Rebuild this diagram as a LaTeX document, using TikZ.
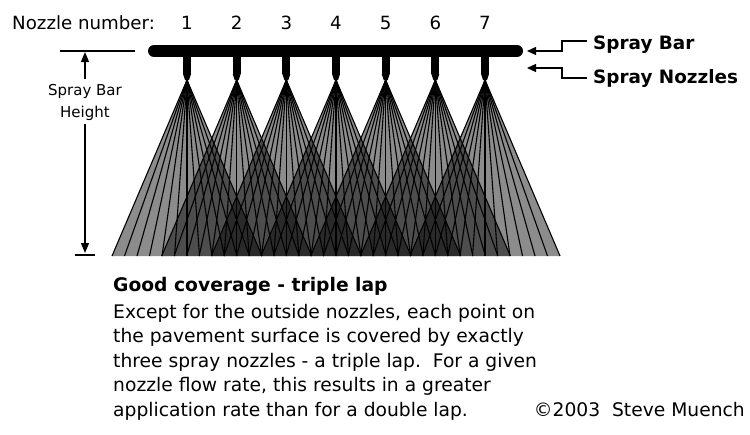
\documentclass[tikz,border=0pt]{standalone}
\usepackage{fontspec}
\setmainfont{DejaVu Sans}
\usetikzlibrary{arrows.meta,positioning,calc}

\tikzset{
  fan/.style={fill=black, fill opacity=0.45},
  ray/.style={line width=1.1pt, black},
  numtxt/.style={font=\fontsize{18.2}{22}\selectfont, inner sep=0pt},
  lbl/.style={font=\bfseries\fontsize{18.4}{22}\selectfont, anchor=base west, inner sep=0pt},
  body/.style={font=\fontsize{18.7}{24.5}\selectfont, inner sep=0pt},
  ptr/.style={line width=1.3pt, -{Triangle[length=9pt,width=8pt]}},
  dim/.style={line width=1.2pt},
  dimtip/.style={dim, -{Triangle[length=10pt,width=8pt]}},
}

\begin{document}
\begin{tikzpicture}[x=1pt,y=-1pt]
\useasboundingbox (0,0) rectangle (750,434);

% Nozzle numbers
\node[numtxt, anchor=base west] (numtitle) at (12,29.5) {Nozzle number:};
\foreach \i in {1,...,7} {
  \pgfmathsetmacro\nx{187+49.67*(\i-1)}
  \node[numtxt, anchor=base] (num\i) at (\nx,29.5) {\i};
  \coordinate (stem\i) at (\nx,56);
  \coordinate (tip\i) at (\nx,80);
}

% Spray fans
\foreach \i in {1,...,7}
  \fill[fan] (tip\i) -- ++(-75,176) -- ++(150,0) -- cycle;
\foreach \i in {1,...,7}
  \foreach \k in {-6,...,6}
    \draw[ray] (tip\i) -- ++(12.5*\k,176);

% Spray bar and nozzles
\coordinate (barL) at (154,51);
\coordinate (barR) at (517,51);
\draw[line width=12pt, line cap=round] (barL) -- (barR);
\foreach \i in {1,...,7} {
  \fill (stem\i) ++(-4,0) rectangle ++(8,18);
  \fill (stem\i) ++(-4,18) -- ++(2,6) -- ++(4,0) -- ++(2,-6) -- cycle;
}

% Spray bar height
\coordinate (htop) at (85,52);
\coordinate (hbot) at (85,253);
\draw[dim] (60,51) -- (135,51);
\draw[dim] (75,255) -- (95,255);
\node[font=\fontsize{15}{22}\selectfont, align=center, inner sep=0pt, anchor=base] (hlbl) at (85,117) {Spray Bar\\Height};
\draw[dimtip] (85,79) -- (htop);
\draw[dimtip] (85,124) -- (hbot);

% Labels
\node[lbl] (barlbl) at (593,49) {Spray Bar};
\node[lbl] (nozlbl) at (593,83) {Spray Nozzles};
\coordinate (barpt) at (527,51);
\coordinate (nozpt) at (527,68);
\draw[ptr] (587,41) -| ($(barpt)+(35,0)$) -- (barpt);
\draw[ptr] (587,78) -| ($(nozpt)+(35,0)$) -- (nozpt);

% Description
\node[body, anchor=base west, font=\bfseries\fontsize{18.7}{24.5}\selectfont] (head) at (113,291) {Good coverage - triple lap};
\node[body, anchor=base west, align=left] (desc) at (113,416)
  {Except for the outside nozzles, each point on\\
   the pavement surface is covered by exactly\\
   three spray nozzles - a triple lap.\ \ For a given\\
   nozzle flow rate, this results in a greater\\
   application rate than for a double lap.};
\node[body, anchor=base east] (copy) at (745,416) {©2003\ \ Steve Muench};
\end{tikzpicture}
\end{document}
